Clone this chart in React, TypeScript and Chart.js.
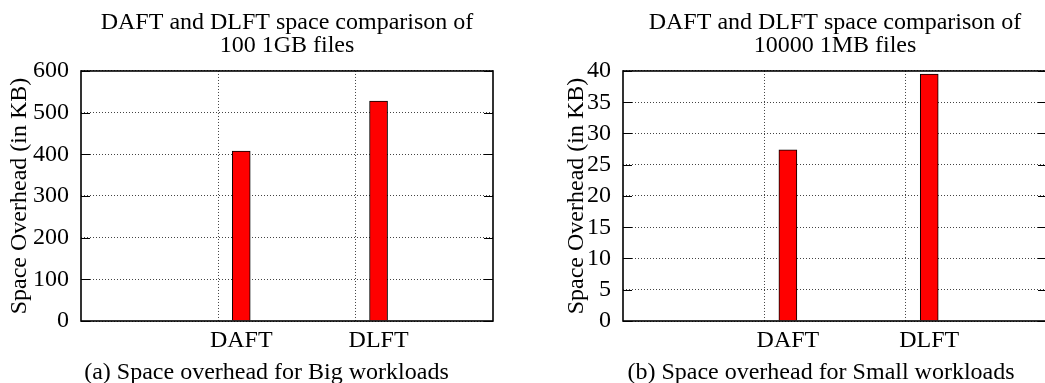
import React, { useEffect, useRef } from "react";
import { Chart, registerables } from "chart.js";

Chart.register(...registerables);

// ---- data ----
const categories = ["DAFT", "DLFT"];
const bigWorkloadKB = [408, 528];
const smallWorkloadKB = [27.4, 39.5];

const bigTitle = ["DAFT and DLFT space comparison of", "100 1GB files"];
const smallTitle = ["DAFT and DLFT space comparison of", "10000 1MB files"];
const bigCaption = "(a) Space overhead for Big workloads";
const smallCaption = "(b) Space overhead for Small workloads";
const yAxisTitle = "Space Overhead (in KB)";

const bigYMax = 600;
const bigYStep = 100;
const smallYMax = 40;
const smallYStep = 5;

// ---- styling ----
const FONT_FAMILY = '"Liberation Serif", "Times New Roman", Times, serif';
const FONT_SIZE = 24;
const TEXT_COLOR = "#000";
const BAR_FILL = "#ff0000";
const GRID_COLOR = "#444";
const DOTS = [1, 2];
// bars sit a little to the right of each category grid line
const BAR_SHIFT = 1 / 6;

const font = { family: FONT_FAMILY, size: FONT_SIZE, lineHeight: 1 };

// Solid frame around the plot plus short inward tick marks on both sides
const framePlugin = {
  id: "frame",
  afterDraw(chart: any) {
    const { ctx, chartArea } = chart;
    const { left, right, top, bottom } = chartArea;
    const y = chart.scales.y;
    ctx.save();
    ctx.strokeStyle = "#000";
    ctx.lineWidth = 1;
    y.ticks.forEach((t: any) => {
      const py = Math.round(y.getPixelForValue(t.value)) + 0.5;
      ctx.beginPath();
      ctx.moveTo(left, py);
      ctx.lineTo(left + 9, py);
      ctx.moveTo(right - 9, py);
      ctx.lineTo(right, py);
      ctx.stroke();
    });
    ctx.lineWidth = 1.6;
    ctx.strokeRect(left, top, right - left, bottom - top);
    ctx.restore();
  },
};

type PanelProps = {
  values: number[];
  yMax: number;
  yStep: number;
  title: string[];
  left: number;
  width: number;
  yAxisWidth: number;
  yTitlePad: number;
  padRight: number;
};

function Panel(p: PanelProps) {
  const ref = useRef<HTMLCanvasElement>(null);

  useEffect(() => {
    const gridPositions = categories.map((_, i) => i + 1);
    const barPositions = categories.map((_, i) => i + 1 + BAR_SHIFT);

    const chart = new Chart(ref.current as HTMLCanvasElement, {
      type: "bar",
      data: {
        datasets: [
          {
            data: categories.map((_, i) => ({ x: barPositions[i], y: p.values[i] })),
            backgroundColor: BAR_FILL,
            borderColor: "#000",
            borderWidth: 1,
            barThickness: 18,
          },
        ],
      },
      options: {
        responsive: false,
        animation: false,
        events: [],
        layout: { padding: { top: 0, right: p.padRight, bottom: 23, left: 0 } },
        plugins: {
          legend: { display: false },
          tooltip: { enabled: false },
          title: {
            display: true,
            text: p.title,
            fullSize: false,
            color: TEXT_COLOR,
            font: { ...font, lineHeight: 0.958, weight: "normal" },
            padding: { top: 11.4, bottom: 13.6 },
          },
        },
        scales: {
          x: {
            type: "linear",
            min: 0,
            max: categories.length + 1,
            offset: false,
            afterBuildTicks: (s: any) => {
              const vals = [...gridPositions, ...barPositions].sort((a, b) => a - b);
              s.ticks = vals.map((v) => ({ value: v }));
            },
            afterFit: (s: any) => {
              s.height = 39;
            },
            ticks: {
              autoSkip: false,
              maxRotation: 0,
              padding: 7.5,
              color: TEXT_COLOR,
              font,
              callback: (v: any) =>
                Number.isInteger(v) ? "" : categories[Math.floor(v) - 1],
            },
            grid: {
              offset: false,
              color: (c: any) =>
                c.tick && Number.isInteger(c.tick.value) ? GRID_COLOR : "rgba(0,0,0,0)",
              drawTicks: false,
              borderDash: DOTS,
              dash: DOTS,
            },
            border: { display: false, dash: DOTS },
          },
          y: {
            min: 0,
            max: p.yMax,
            afterFit: (s: any) => {
              s.width = p.yAxisWidth;
            },
            ticks: {
              stepSize: p.yStep,
              padding: 12,
              color: TEXT_COLOR,
              font,
            },
            grid: {
              color: GRID_COLOR,
              drawTicks: false,
              borderDash: DOTS,
              dash: DOTS,
            },
            border: { display: false, dash: DOTS },
            title: {
              display: true,
              text: yAxisTitle,
              color: TEXT_COLOR,
              font,
              padding: { top: p.yTitlePad, bottom: 0 },
            },
          },
        },
      } as any,
      plugins: [framePlugin],
    });
    return () => chart.destroy();
  }, []);

  return (
    <canvas
      ref={ref}
      width={p.width}
      height={383}
      style={{ position: "absolute", left: p.left, top: 0 }}
    />
  );
}

const captionStyle: React.CSSProperties = {
  position: "absolute",
  top: 359,
  fontFamily: FONT_FAMILY,
  fontSize: FONT_SIZE,
  lineHeight: "24px",
  color: TEXT_COLOR,
  textAlign: "center",
  whiteSpace: "nowrap",
};

export default function App() {
  return (
    <div
      style={{
        position: "fixed",
        left: 0,
        top: 0,
        width: 1045,
        height: 383,
        overflow: "hidden",
        background: "#fff",
      }}
    >
      <Panel
        values={bigWorkloadKB}
        yMax={bigYMax}
        yStep={bigYStep}
        title={bigTitle}
        left={0}
        width={520}
        yAxisWidth={81}
        yTitlePad={7.5}
        padRight={27}
      />
      <Panel
        values={smallWorkloadKB}
        yMax={smallYMax}
        yStep={smallYStep}
        title={smallTitle}
        left={557}
        width={560}
        yAxisWidth={66}
        yTitlePad={8}
        padRight={70}
      />
      <div style={{ ...captionStyle, left: 0, width: 533 }}>{bigCaption}</div>
      <div style={{ ...captionStyle, left: 597, width: 448 }}>{smallCaption}</div>
    </div>
  );
}
